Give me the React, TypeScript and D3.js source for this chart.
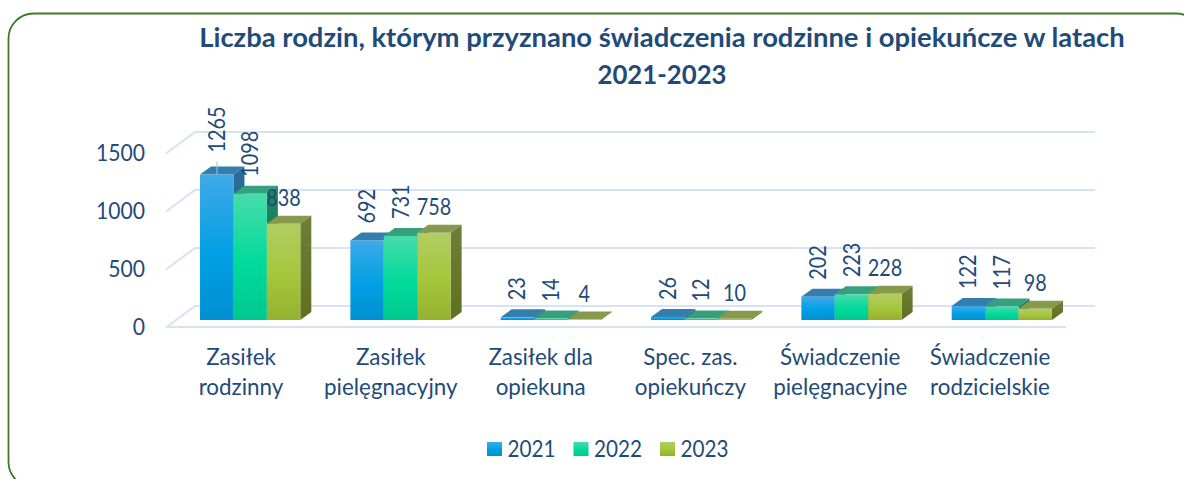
import React from "react";
import * as d3 from "d3";

const categories = [
  ["Zasiłek", "rodzinny"],
  ["Zasiłek", "pielęgnacyjny"],
  ["Zasiłek dla", "opiekuna"],
  ["Spec. zas.", "opiekuńczy"],
  ["Świadczenie", "pielęgnacyjne"],
  ["Świadczenie", "rodzicielskie"],
];
const years = ["2021", "2022", "2023"];
const values2021 = [1265, 692, 23, 26, 202, 122];
const values2022 = [1098, 731, 14, 12, 223, 117];
const values2023 = [838, 758, 4, 10, 228, 98];
const ticks = [0, 500, 1000, 1500];
const titleLines = [
  "Liczba rodzin, którym przyznano świadczenia rodzinne i opiekuńcze w latach",
  "2021-2023",
];

const FONT = "Lato, 'Open Sans', sans-serif";
const TEXT = "#1f4b78";
const GRID = "#d5e3f4";
const DX = 11;
const DY = 8;
const DIGIT_SIZE = 23.5;

const palettes = [
  { stops: ["#40a9e8", "#00a0e4", "#0090d2"], top: "#347eae", side: "#2a6c98", sideB: "#236186" },
  { stops: ["#48dcaa", "#00da9b", "#00c88e"], top: "#36a07c", side: "#1d8562", sideB: "#167a58" },
  { stops: ["#b2cd63", "#a5c63b", "#95b12f"], top: "#87994a", side: "#6f7f38", sideB: "#5f7020" },
];
const seriesValues = [values2021, values2022, values2023];

const x = d3
  .scaleBand<number>()
  .domain(d3.range(categories.length))
  .range([175, 1077])
  .paddingInner(0.333)
  .paddingOuter(0.1665);
const y = d3.scaleLinear().domain([0, 1500]).range([320, 147.5]);
const gridY = d3.scaleLinear().domain([0, 1500]).range([306, 132]);
const labelX = d3.scalePoint<number>().domain(d3.range(categories.length)).range([241, 990]);
const barX = d3.scaleBand<number>().domain(d3.range(years.length)).range([0, x.bandwidth()]);

const LEFT = 166;
const BACK = 29;
const RIGHT = 1066;

const digits = (v: number | string, perDigit: number) => String(v).length * perDigit;

export default function App() {
  return (
    <svg
      width={1184}
      height={479}
      style={{ position: "absolute", left: 0, top: 0, background: "#fff", fontFamily: FONT }}
    >
      <defs>
        {palettes.map((p, i) => (
          <React.Fragment key={i}>
            <linearGradient id={`front${i}`} x1="0" y1="0" x2="0" y2="1">
              <stop offset="0" stopColor={p.stops[0]} />
              <stop offset="0.55" stopColor={p.stops[1]} />
              <stop offset="1" stopColor={p.stops[2]} />
            </linearGradient>
            <linearGradient id={`side${i}`} x1="0" y1="0" x2="0" y2="1">
              <stop offset="0" stopColor={p.side} />
              <stop offset="1" stopColor={p.sideB} />
            </linearGradient>
          </React.Fragment>
        ))}
      </defs>

      <rect
        x={8.5}
        y={13.5}
        width={1192.5}
        height={473.5}
        rx={25}
        ry={25}
        fill="none"
        stroke="#3d7a2e"
        strokeWidth={1.8}
      />

      {titleLines.map((t, i) => (
        <text
          key={i}
          x={662}
          y={47 + i * 37}
          textAnchor="middle"
          fontSize={27.4}
          fontWeight={700}
          fill={TEXT}
          {...(i === 1 ? { textLength: 129, lengthAdjust: "spacingAndGlyphs" } : {})}
        >
          {t}
        </text>
      ))}

      {ticks.map((t) => (
        <path
          key={t}
          d={`M${LEFT},${gridY(t) + 21.5} L${LEFT + BACK},${gridY(t)} L${RIGHT + BACK},${gridY(t)}`}
          stroke={GRID}
          strokeWidth={2}
          fill="none"
        />
      ))}
      <path d={`M${LEFT},${y(0) + 7} L${RIGHT},${y(0) + 7}`} stroke={GRID} strokeWidth={2} />

      {ticks.map((t) => (
        <text
          key={t}
          x={145}
          y={gridY(t) + 29}
          textAnchor="end"
          fontSize={DIGIT_SIZE}
          fill={TEXT}
          textLength={digits(t, 12.25)}
          lengthAdjust="spacingAndGlyphs"
        >
          {t}
        </text>
      ))}

      {seriesValues.map((vals, s) => (
        <g key={s}>
          {vals.map((v, c) => {
            const x0 = (x(c) as number) + (barX(s) as number);
            const w = barX.bandwidth();
            const yt = y(v);
            const yb = y(0);
            return (
              <g key={c}>
                <path d={`M${x0},${yt} l${DX},${-DY} h${w} l${-DX},${DY} z`} fill={palettes[s].top} />
                <path
                  d={`M${x0 + w},${yt} l${DX},${-DY} V${yb - DY} l${-DX},${DY} z`}
                  fill={`url(#side${s})`}
                />
                <rect x={x0} y={yt} width={w} height={yb - yt} fill={`url(#front${s})`} />
              </g>
            );
          })}
        </g>
      ))}

      <line
        x1={(x(0) as number) + 17}
        x2={(x(0) as number) + 17}
        y1={y(values2021[0]) - 13}
        y2={y(values2021[0])}
        stroke="#9cc3e6"
        strokeWidth={1}
      />

      {seriesValues.map((vals, s) =>
        vals.map((v, c) => {
          const cx = (x(c) as number) + (barX(s) as number) + barX.bandwidth() / 2;
          const yt = y(v);
          if (s === 2) {
            return (
              <text
                key={`${s}-${c}`}
                x={cx}
                y={yt - 17.5}
                textAnchor="middle"
                fontSize={DIGIT_SIZE}
                fill={TEXT}
                textLength={digits(v, 11.5)}
                lengthAdjust="spacingAndGlyphs"
              >
                {v}
              </text>
            );
          }
          const gap = v === 1265 ? 22 : 17;
          return (
            <text
              key={`${s}-${c}`}
              transform={`translate(${cx + 8},${yt - gap}) rotate(-90)`}
              fontSize={DIGIT_SIZE}
              fill={TEXT}
              textLength={digits(v, 11.5)}
              lengthAdjust="spacingAndGlyphs"
            >
              {v}
            </text>
          );
        })
      )}

      {categories.map((lines, c) => (
        <text key={c} textAnchor="middle" fontSize={22.4} fill={TEXT}>
          {lines.map((l, i) => (
            <tspan key={i} x={labelX(c)} y={365 + i * 30}>
              {l}
            </tspan>
          ))}
        </text>
      ))}

      {years.map((yr, i) => {
        const lx = 487 + i * 86.5;
        return (
          <g key={yr}>
            <rect x={lx} y={442} width={15} height={14} fill={`url(#front${i})`} />
            <text
              x={lx + 20.5}
              y={457}
              fontSize={DIGIT_SIZE}
              fill={TEXT}
              textLength={digits(yr, 12)}
              lengthAdjust="spacingAndGlyphs"
            >
              {yr}
            </text>
          </g>
        );
      })}
    </svg>
  );
}
